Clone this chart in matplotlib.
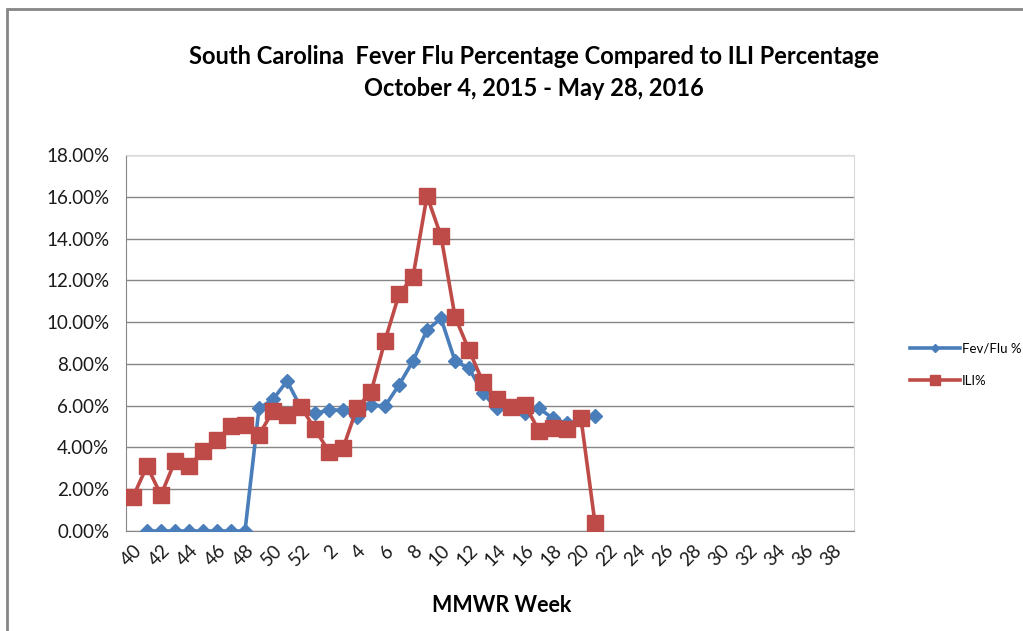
import numpy as np
import matplotlib.pyplot as plt
from matplotlib.patches import Rectangle
from matplotlib.ticker import FuncFormatter

plt.rcParams['font.family'] = ['Lato', 'DejaVu Sans']

# MMWR weeks 40..52 of 2015, then 1..39 of 2016
weeks = list(range(40, 53)) + list(range(1, 40))

# values in percent (nan = no point)
fev_flu = [np.nan, 0, 0, 0, 0, 0, 0, 0, 0, 5.87, 6.30, 7.18, 5.90,
           5.63, 5.79, 5.79, 5.47, 6.03, 5.98, 6.99, 8.14, 9.62, 10.18, 8.14,
           7.79, 6.59, 5.87, 5.90, 5.63, 5.87, 5.39, 5.15, 5.30, 5.50]
ili = [1.63, 3.11, 1.72, 3.35, 3.11, 3.83, 4.36, 5.03, 5.07, 4.60, 5.75, 5.55, 5.95,
       4.87, 3.80, 3.96, 5.90, 6.65, 9.11, 11.33, 12.17, 16.04, 14.12, 10.26,
       8.66, 7.12, 6.32, 5.95, 6.03, 4.80, 4.92, 4.87, 5.39, 0.37]

fev_flu = fev_flu + [np.nan] * (len(weeks) - len(fev_flu))
ili = ili + [np.nan] * (len(weeks) - len(ili))
x = np.arange(len(weeks))

fig = plt.figure(figsize=(10.23, 6.31), dpi=100)
ax = fig.add_axes([126 / 1023, 1 - 531 / 631, 728 / 1023, 376 / 631])

blue = '#4A7EBB'
red = '#BE4B48'
ax.plot(x, fev_flu, color=blue, lw=2.6, marker='D', ms=7.5, label='Fev/Flu %', zorder=3)
ax.plot(x, ili, color=red, lw=2.6, marker='s', ms=11.5, label='ILI%', zorder=4)

ax.set_xlim(-0.5, len(weeks) - 0.5)
ax.set_ylim(0, 18)
ax.set_yticks(np.arange(0, 18.1, 2))
ax.yaxis.set_major_formatter(FuncFormatter(lambda v, p: '{:.2f}%'.format(v)))
ax.set_xticks(x[::2])
ax.set_xticklabels([str(w) for w in weeks[::2]], rotation=45, ha='right',
                   rotation_mode='anchor')
ax.tick_params(axis='both', length=0, labelsize=13.5, colors='#1a1a1a')
ax.tick_params(axis='y', pad=12)
ax.tick_params(axis='x', pad=8)
ax.grid(axis='y', color='#868686', lw=1)
ax.set_axisbelow(True)
for s in ['top', 'right']:
    ax.spines[s].set_color('#d9d9d9')
for s in ['left', 'bottom']:
    ax.spines[s].set_color('#868686')

ax.set_xlabel('MMWR Week', fontsize=15.5, fontweight='bold', va='center')
ax.xaxis.set_label_coords(0.516, -0.197)

fig.text(0.522, 0.911, 'South Carolina  Fever Flu Percentage Compared to ILI Percentage',
         ha='center', va='center', fontsize=17, fontweight='bold')
fig.text(0.522, 0.860, 'October 4, 2015 - May 28, 2016',
         ha='center', va='center', fontsize=17, fontweight='bold')

leg = fig.legend(loc='center left', bbox_to_anchor=(0.878, 0.422), frameon=False,
                 fontsize=9.5, handlelength=3.8, labelspacing=1.5, handletextpad=0.1,
                 markerscale=0.6)

# outer chart border
fig.patches.append(Rectangle((7 / 1023, -0.1), 1.2, 0.1 + 1 - 9 / 631,
                             transform=fig.transFigure, fill=False,
                             edgecolor='#868686', lw=2))

fig.savefig('out.png', dpi=100)
